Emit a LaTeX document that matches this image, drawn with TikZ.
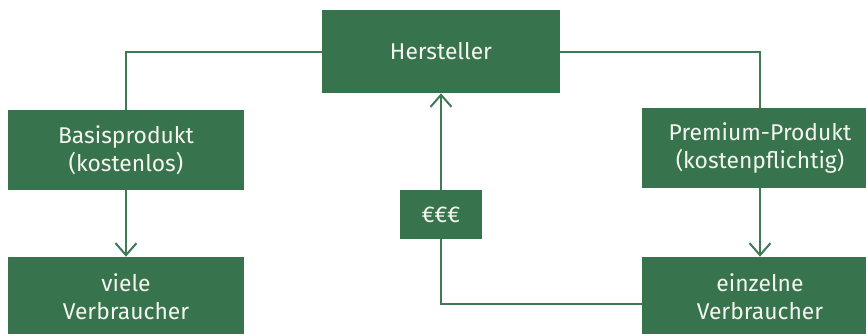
\documentclass[tikz,border=0pt]{standalone}
\usepackage{fontspec}
\setmainfont{Fira Sans}
\usetikzlibrary{arrows.meta}

\begin{document}
\begin{tikzpicture}[
        box/.style = {fill=boxGreen, text=boxText, align=center, inner sep=0pt,
                      minimum width=4.72cm, minimum height=1.6cm,
                      font=\fontsize{13}{16}\selectfont},
        link/.style = {draw=lineGreen, line width=0.04cm},
        arr/.style = {link, -{Straight Barb[length=0.24cm, width=0.42cm]}}
    ]
            \definecolor{boxGreen}{RGB}{55,115,77}
            \definecolor{lineGreen}{RGB}{62,122,84}
            \definecolor{boxText}{RGB}{245,245,240}

            %\draw [step = 1 cm, help lines] (0,0) grid (17,6);
            \useasboundingbox (0,0) rectangle (17.32,6.66);
            \clip (0,0) rectangle (17.32,6.66);

            \node [box, minimum width = 4.76cm, minimum height = 1.66cm] (hersteller) at (8.82,5.63) {Hersteller};

            \node [box] (basis) at (2.52,3.66) {Basisprodukt\\(kostenlos)};
            \node [box] (premium) at (15.2,3.70) {Premium-Produkt\\(kostenpflichtig)};

            \node [box] (viele) at (2.52,0.72) {viele\\Verbraucher};
            \node [box] (einzelne) at (15.2,0.72) {einzelne\\Verbraucher};

            \node [box, minimum width = 1.64cm, minimum height = 0.98cm] (euro) at (8.82,2.37) {€€€};

            \draw [link] (hersteller.west) -| (basis.north);
            \draw [link] (hersteller.east) -| (premium.north);

            \draw [arr] (basis) -- (viele);
            \draw [arr] (premium) -- (einzelne);
            \draw [arr] (euro) -- (hersteller);

            \coordinate (back) at ([yshift=-0.14cm]einzelne.west);
            \draw [link] (euro.south) |- (back);

\end{tikzpicture}
\end{document}
